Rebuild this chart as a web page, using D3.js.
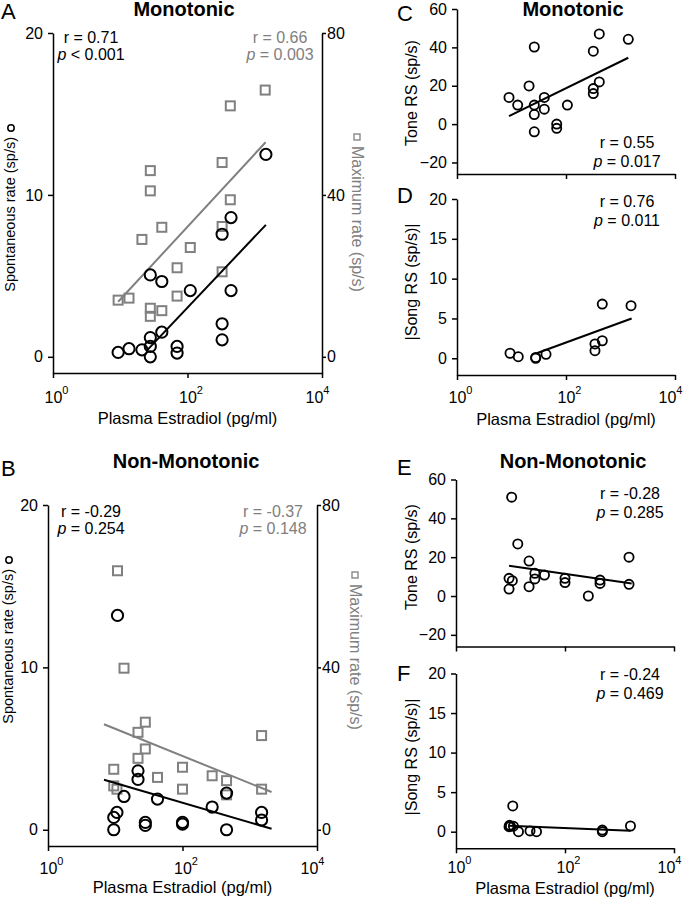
<!DOCTYPE html>
<html>
<head>
<meta charset="utf-8">
<script src="https://cdn.jsdelivr.net/npm/d3@7"></script>
<style>
body { margin: 0; background: #fff; }
</style>
</head>
<body>
<div id="chart"></div>
<script>
const FONT = '"Liberation Sans", Arial, Helvetica, sans-serif';
const GREY = "#808080";
const xTicks = [1, 100, 10000];

// A - monotonic, spontaneous rate (circles, left axis)
const monoSpontE2   = [9.3, 13.5, 21, 28, 28, 28, 28, 41.5, 41.5, 70, 70, 110, 327, 444, 444, 327, 327, 1465];
const monoSpontRate = [0.27, 0.5, 0.43, 1.19, 0.64, 0, 5.06, 4.65, 1.52, 0.64, 0.23, 4.09, 7.57, 8.6, 4.09, 2.04, 1.05, 12.5];
// A - monotonic, maximum rate (squares, right axis)
const monoMaxE2   = [1430, 433, 327, 28, 28, 433, 41.5, 21, 110, 327, 70, 327, 9.3, 13.5, 28, 28, 41.5, 70];
const monoMaxRate = [65.9, 62, 48, 46, 41, 38.8, 32, 29, 27, 32.2, 22, 21, 14, 14.5, 12, 10, 11.4, 15];
const monoSpontFit = [[25, 0.4], [1465, 8.15]];
const monoMaxFit   = [[9.3, 13.6], [1450, 53]];

// B - non-monotonic
const nonSpontE2   = [9.5, 9.5, 10.6, 13.5, 21.8, 21.8, 28, 28, 42.5, 100, 100, 276, 452, 452, 1500, 1500, 10.8];
const nonSpontRate = [0, 0.76, 1.07, 2.05, 3.63, 3.1, 0.45, 0.27, 1.89, 0.45, 0.35, 1.4, 2.26, 0, 1.07, 0.6, 13.2];
const nonMaxE2   = [10.8, 13.5, 28, 21.8, 28, 21.8, 9.5, 9.5, 10.6, 42.5, 100, 100, 276, 452, 452, 1500, 1500];
const nonMaxRate = [63.8, 39.8, 26.5, 24, 19.9, 17.6, 14.9, 10.8, 10, 12.9, 15.4, 10, 13.3, 12.1, 8.6, 23.2, 10];
const nonSpontFit = [[6.8, 3.08], [2110, 0.06]];
const nonMaxFit   = [[6.8, 26], [2110, 9.3]];

// C - monotonic tone RS
const monoToneE2 = [9, 13, 21, 26.2, 26.2, 26.2, 26.2, 40, 40, 67.5, 67.5, 106, 317, 317, 317, 408, 408, 1390];
const monoToneRS = [13.9, 9.9, 19.9, 40.2, 9.9, 5, -4, 13.9, 7.8, 0, -2.2, 9.9, 38, 18.5, 15.9, 47, 22, 44.2];
const monoToneFit = [[9, 4.2], [1390, 34.6]];

// D - monotonic |song RS|
const monoSongE2 = [9.4, 13.3, 27.8, 27.8, 43, 340, 340, 463, 463, 1560];
const monoSongRS = [0.63, 0.2, 0, 0.1, 0.5, 1.8, 0.95, 2.2, 6.8, 6.6];
const monoSongFit = [[29, 0.63], [1600, 5.0]];

// E - non-monotonic tone RS
const nonToneE2 = [10.5, 13.6, 21.9, 9.4, 10.8, 9.4, 21.9, 28, 28, 42, 100, 100, 268, 439, 439, 1494, 1494];
const nonToneRS = [50.9, 26.8, 18, 9.1, 7.9, 3.6, 4.8, 11.7, 8.8, 10.8, 9.1, 6.9, 0, 8.2, 6.5, 20, 6];
const nonToneFit = [[9.4, 15.6], [1675, 6.5]];

// F - non-monotonic |song RS|
const nonSongE2 = [11, 9.4, 10, 11.3, 14, 22.8, 30, 484, 484, 1590, 9.6];
const nonSongRS = [3.25, 0.63, 0.7, 0.7, 0, 0.1, 0, 0.2, 0, 0.72, 0.8];
const nonSongFit = [[9.4, 0.76], [1600, 0.13]];

const svg = d3.select("#chart").append("svg")
  .attr("width", 685).attr("height", 899)
  .style("font-family", FONT);

function styleAxis(ax) {
  ax.attr("font-family", FONT).attr("font-size", 16);
  ax.select(".domain").attr("stroke", "#000").attr("stroke-width", 1.5);
  ax.selectAll(".tick line").attr("stroke", "#000").attr("stroke-width", 1.5);
  ax.selectAll(".tick text").attr("fill", "#000");
}

// log x axis with 10^n labels; the last label is pulled inside the axis end
function drawXAxis(x, yPix, labOff) {
  const ax = svg.append("g").attr("transform", `translate(0,${yPix})`)
    .call(d3.axisBottom(x).tickValues(xTicks).tickFormat("").tickSize(5).tickSizeOuter(0));
  styleAxis(ax);
  if (labOff == undefined) return;
  const t = ax.selectAll(".tick").append("text")
    .attr("x", d => d == 10000 ? -17 : -9).attr("y", labOff).attr("dy", 0)
    .attr("text-anchor", "start").attr("fill", "#000")
    .style("font-size", "16px")
    .text("10");
  t.append("tspan").attr("dy", -9).style("font-size", "11px")
    .text(d => Math.round(Math.log10(d)));
}

function txt(x, y, s, size, opts) {
  opts = opts || {};
  return svg.append("text")
    .attr("x", x).attr("y", y)
    .attr("text-anchor", opts.anchor || "middle")
    .style("font-size", size + "px")
    .style("font-weight", opts.bold ? "bold" : "normal")
    .attr("fill", opts.color || "#000")
    .text(s);
}

function stats(x, y, gap, r, pOp, p, color) {
  txt(x, y, "r = " + r, 16, {color: color});
  const t = svg.append("text").attr("x", x).attr("y", y + gap)
    .attr("text-anchor", "middle").style("font-size", "16px").attr("fill", color);
  t.append("tspan").style("font-style", "italic").text("p");
  t.append("tspan").text(" " + pOp + " " + p);
}

function fitLine(x, y, pts, color) {
  svg.append("path")
    .datum(pts)
    .attr("d", d3.line().x(d => x(d[0])).y(d => y(d[1])))
    .attr("fill", "none").attr("stroke", color).attr("stroke-width", 2);
}

function circles(x, y, xs, ys, r, w) {
  svg.append("g").selectAll("circle")
    .data(xs.map((d, i) => [d, ys[i]]))
    .join("circle")
    .attr("cx", d => x(d[0])).attr("cy", d => y(d[1]))
    .attr("r", r)
    .attr("fill", "none").attr("stroke", "#000").attr("stroke-width", w);
}

// A and B: spontaneous + maximum rate
function drawRatePanel(p) {
  const x = d3.scaleLog().domain([1, 10000]).range([p.x0, p.x1]);
  const yL = d3.scaleLinear().domain([-1, 20]).range([p.yBot, p.yTop]);
  const yR = d3.scaleLinear().domain([-4, 80]).range([p.yBot, p.yTop]);

  const axL = svg.append("g").attr("transform", `translate(${p.x0},0)`)
    .call(d3.axisLeft(yL).tickValues([0, 10, 20]).tickSize(5).tickPadding(5).tickSizeOuter(0));
  styleAxis(axL);
  const axR = svg.append("g").attr("transform", `translate(${p.x1},0)`)
    .call(d3.axisRight(yR).tickValues([0, 40, 80]).tickSize(4).tickPadding(1).tickSizeOuter(0));
  styleAxis(axR);
  drawXAxis(x, p.yBot, p.tickLabOff);

  // squares
  svg.append("g").selectAll("rect")
    .data(p.maxE2.map((d, i) => [d, p.maxRate[i]]))
    .join("rect")
    .attr("x", d => x(d[0]) - 4.5).attr("y", d => yR(d[1]) - 4.5)
    .attr("width", 9).attr("height", 9)
    .attr("fill", "none").attr("stroke", GREY).attr("stroke-width", 2);
  fitLine(x, yR, p.maxFit, GREY);

  circles(x, yL, p.spE2, p.spRate, 5.6, 2);
  fitLine(x, yL, p.spFit, "#000");

  txt(p.letterX, p.letterY, p.letter, 22, {anchor: "start"});
  txt(p.titleX, p.titleY, p.title, 20, {bold: true});
  stats(p.statLX, p.statY, 16.5, p.rL, p.pLop, p.pL, "#000");
  stats(p.statRX, p.statY, 16.5, p.rR, "=", p.pR, GREY);

  // left axis label with circle key
  svg.append("text")
    .attr("transform", `translate(${p.yLabX},${p.yLabEnd}) rotate(-90)`)
    .attr("text-anchor", "end").style("font-size", "14.5px").attr("fill", "#000")
    .text("Spontaneous rate (sp/s)");
  svg.append("circle").attr("cx", p.yLabX - 4).attr("cy", p.yLabEnd - 9).attr("r", 3.2)
    .attr("fill", "none").attr("stroke", "#000").attr("stroke-width", 1.5);

  // right axis label with square key
  svg.append("text")
    .attr("transform", `translate(${p.rLabX},${p.rLabStart}) rotate(90)`)
    .attr("text-anchor", "start").style("font-size", "16px").attr("fill", GREY)
    .text("Maximum rate (sp/s)");
  svg.append("rect").attr("x", p.rLabX + 2).attr("y", p.rLabStart - 12).attr("width", 6).attr("height", 6)
    .attr("fill", "none").attr("stroke", GREY).attr("stroke-width", 1.3);

  txt((p.x0 + p.x1) / 2, p.xLabY, "Plasma Estradiol (pg/ml)", 16.5);
}

// C-F: response strength panels
function drawRSPanel(p) {
  const x = d3.scaleLog().domain([1, 10000]).range([p.x0, p.x1]);
  const y = d3.scaleLinear().domain(p.yDom).range([p.yBot, p.yTop]);

  const axL = svg.append("g").attr("transform", `translate(${p.x0},0)`)
    .call(d3.axisLeft(y).tickValues(p.yTicks).tickSize(5).tickPadding(5).tickSizeOuter(0));
  styleAxis(axL);
  drawXAxis(x, p.yBot, p.tickLabOff);

  circles(x, y, p.e2, p.rs, 4.6, 1.8);
  fitLine(x, y, p.fit, "#000");

  txt(p.letterX, p.letterY, p.letter, 22, {anchor: "start"});
  if (p.title) txt(p.titleX, p.titleY, p.title, 20, {bold: true});
  stats(p.statX, p.statY, 18.5, p.r, "=", p.p, "#000");

  svg.append("text")
    .attr("transform", `translate(417,${p.yLabY}) rotate(-90)`)
    .attr("text-anchor", "middle").style("font-size", "16px").attr("fill", "#000")
    .text(p.yLab);

  if (p.xLabY) txt((p.x0 + p.x1) / 2, p.xLabY, "Plasma Estradiol (pg/ml)", 16.5);
}

drawRatePanel({
  x0: 53, x1: 322, yBot: 373, yTop: 33, tickLabOff: 30,
  spE2: monoSpontE2, spRate: monoSpontRate, maxE2: monoMaxE2, maxRate: monoMaxRate,
  spFit: monoSpontFit, maxFit: monoMaxFit,
  letter: "A", letterX: 1, letterY: 19,
  title: "Monotonic", titleX: 184, titleY: 16,
  statLX: 91, statRX: 280, statY: 43, rL: "0.71", pLop: "<", pL: "0.001", rR: "0.66", pR: "0.003",
  yLabX: 15, yLabEnd: 137, rLabX: 352, rLabStart: 146, xLabY: 424
});

drawRatePanel({
  x0: 48, x1: 317, yBot: 846, yTop: 505, tickLabOff: 28,
  spE2: nonSpontE2, spRate: nonSpontRate, maxE2: nonMaxE2, maxRate: nonMaxRate,
  spFit: nonSpontFit, maxFit: nonMaxFit,
  letter: "B", letterX: 1, letterY: 476,
  title: "Non-Monotonic", titleX: 186, titleY: 468,
  statLX: 91, statRX: 273, statY: 517, rL: "-0.29", pLop: "=", pL: "0.254", rR: "-0.37", pR: "0.148",
  yLabX: 13, yLabEnd: 569, rLabX: 350, rLabStart: 584, xLabY: 893
});

drawRSPanel({
  x0: 457, x1: 675, yBot: 174, yTop: 9, yDom: [-26, 60], yTicks: [-20, 0, 20, 40, 60],
  e2: monoToneE2, rs: monoToneRS, fit: monoToneFit,
  letter: "C", letterX: 397, letterY: 21, title: "Monotonic", titleX: 573, titleY: 16,
  statX: 627, statY: 148, r: "0.55", p: "0.017", yLab: "Tone RS (sp/s)", yLabY: 93
});

drawRSPanel({
  x0: 457, x1: 675, yBot: 375, yTop: 199, yDom: [-2.1, 20], yTicks: [0, 5, 10, 15, 20],
  e2: monoSongE2, rs: monoSongRS, fit: monoSongFit, tickLabOff: 28,
  letter: "D", letterX: 397, letterY: 203,
  statX: 627, statY: 207, r: "0.76", p: "0.011", yLab: "|Song RS (sp/s)|", yLabY: 282,
  xLabY: 425
});

drawRSPanel({
  x0: 456, x1: 674, yBot: 646.5, yTop: 479.5, yDom: [-26, 60], yTicks: [-20, 0, 20, 40, 60],
  e2: nonToneE2, rs: nonToneRS, fit: nonToneFit,
  letter: "E", letterX: 397, letterY: 475, title: "Non-Monotonic", titleX: 573, titleY: 468,
  statX: 630, statY: 499, r: "-0.28", p: "0.285", yLab: "Tone RS (sp/s)", yLabY: 557
});

drawRSPanel({
  x0: 456, x1: 674, yBot: 848.3, yTop: 673.5, yDom: [-2.1, 20], yTicks: [0, 5, 10, 15, 20],
  e2: nonSongE2, rs: nonSongRS, fit: nonSongFit, tickLabOff: 25,
  letter: "F", letterX: 397, letterY: 681,
  statX: 630, statY: 680, r: "-0.24", p: "0.469", yLab: "|Song RS (sp/s)|", yLabY: 757,
  xLabY: 894
});
</script>
</body>
</html>
